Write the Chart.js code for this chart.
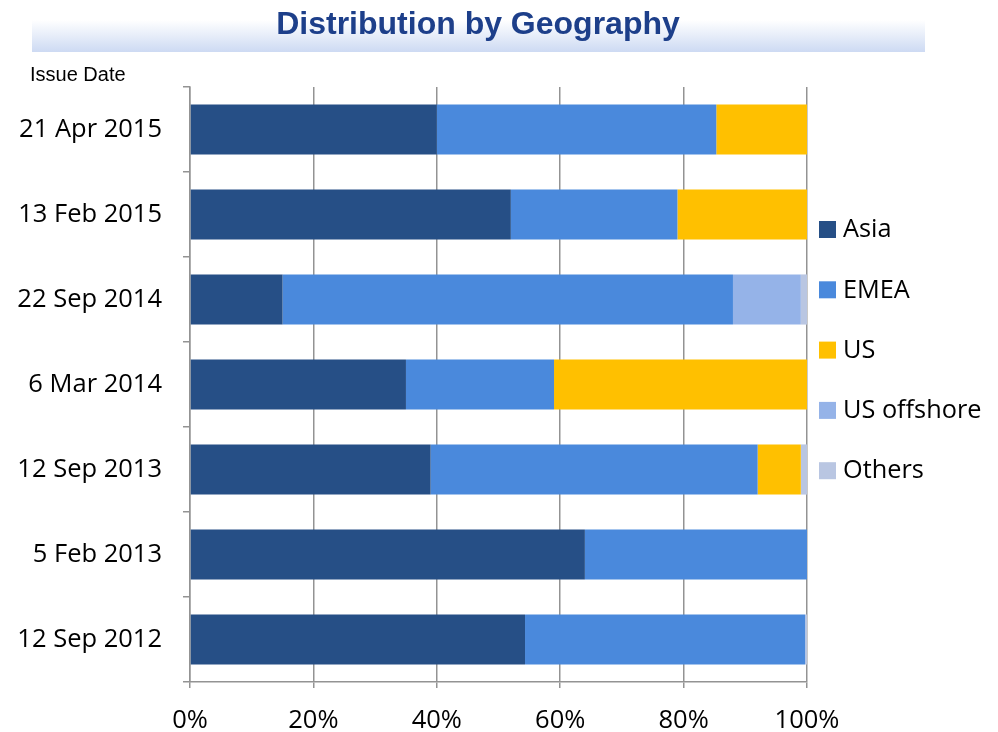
<!DOCTYPE html>
<html>
<head>
<meta charset="utf-8">
<script src="https://cdn.jsdelivr.net/npm/chart.js@4"></script>
<style>
  html, body { margin: 0; padding: 0; background: #fff; }
  #wrap { width: 998px; height: 732px; position: relative; }
</style>
</head>
<body>
<div id="wrap"><canvas id="chart"></canvas></div>
<script>
// issue dates, top to bottom
const issueDates = ["21 Apr 2015", "13 Feb 2015", "22 Sep 2014", "6 Mar 2014", "12 Sep 2013", "5 Feb 2013", "12 Sep 2012"];

// share of each region, in %
const asia       = [40, 52, 15, 35, 39, 64, 54.3];
const emea       = [45.3, 27, 73, 24, 53, 36, 45.4];
const us         = [14.7, 21, 0, 41, 7, 0, 0];
const usOffshore = [0, 0, 11, 0, 0, 0, 0];
const others     = [0, 0, 1, 0, 1, 0, 0.3];

const xTicks = [0, 20, 40, 60, 80, 100];

const labelFont = "'Open Sans', 'Noto Sans', sans-serif";

// title band, heading, "Issue Date" and the legend on the right
const decorations = {
    id: "decorations",
    beforeDraw(chart) {
        const ctx = chart.ctx;
        ctx.save();
        const grad = ctx.createLinearGradient(0, 20, 0, 52);
        grad.addColorStop(0, "#ffffff");
        grad.addColorStop(1, "#cddaf3");
        ctx.fillStyle = grad;
        ctx.fillRect(32, 20, 893, 32);
        ctx.restore();
    },
    afterDraw(chart) {
        const ctx = chart.ctx;
        ctx.save();
        ctx.fillStyle = "#1d3f8a";
        ctx.font = "bold 32px 'Liberation Sans', Arial, sans-serif";
        ctx.textAlign = "center";
        ctx.textBaseline = "middle";
        ctx.fillText("Distribution by Geography", 478, 25);

        ctx.fillStyle = "#000";
        ctx.font = "20px 'Liberation Sans', Arial, sans-serif";
        ctx.textAlign = "left";
        ctx.fillText("Issue Date", 30, 75);

        ctx.font = "25.3px " + labelFont;
        chart.data.datasets.forEach((ds, i) => {
            const y = 230 + i * 60.3;
            ctx.fillStyle = ds.backgroundColor;
            ctx.fillRect(819, y - 9, 17, 17);
            ctx.fillStyle = "#000";
            ctx.fillText(ds.label, 843, y);
        });
        ctx.restore();
    }
};

new Chart(document.getElementById("chart"), {
    type: "bar",
    data: {
        labels: issueDates,
        datasets: [
            {label: "Asia", data: asia, backgroundColor: "#264f86"},
            {label: "EMEA", data: emea, backgroundColor: "#4a89dc"},
            {label: "US", data: us, backgroundColor: "#ffc000"},
            {label: "US offshore", data: usOffshore, backgroundColor: "#95b3e8"},
            {label: "Others", data: others, backgroundColor: "#b9c6e2"},
        ]
    },
    options: {
        indexAxis: "y",
        responsive: true,
        maintainAspectRatio: false,
        animation: false,
        layout: {
            padding: {top: 87, right: 191, bottom: 0, left: 0}
        },
        datasets: {
            bar: {categoryPercentage: 1, barPercentage: 0.59, borderWidth: 0}
        },
        scales: {
            x: {
                stacked: true,
                min: 0,
                max: 100,
                afterBuildTicks: (scale) => {
                    scale.ticks = xTicks.map(v => ({value: v}));
                },
                afterFit: (scale) => { scale.height = 50; },
                grid: {color: "#939393", lineWidth: 1.5, tickLength: 6},
                border: {color: "#939393", width: 1.5},
                ticks: {
                    color: "#000",
                    padding: 17,
                    maxRotation: 0,
                    font: {family: labelFont, size: 25.5},
                    callback: (v) => v + "%"
                }
            },
            y: {
                stacked: true,
                afterFit: (scale) => { scale.width = 190; },
                grid: {drawOnChartArea: false, color: "#939393", lineWidth: 1.5, tickLength: 7},
                border: {color: "#939393", width: 1.5},
                ticks: {
                    color: "#000",
                    padding: 21,
                    font: {family: labelFont, size: 25.5}
                }
            }
        },
        plugins: {
            legend: {display: false},
            title: {display: false},
            tooltip: {enabled: false}
        }
    },
    plugins: [decorations]
});
</script>
</body>
</html>
